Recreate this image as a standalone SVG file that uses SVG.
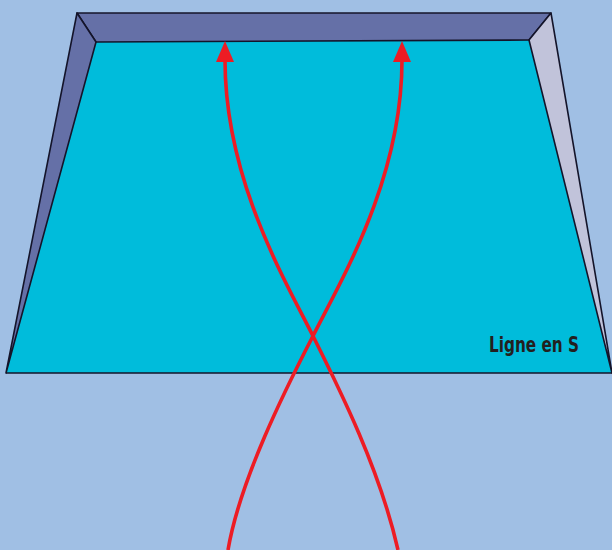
<svg xmlns="http://www.w3.org/2000/svg" width="612" height="550" viewBox="0 0 612 550">
<style>
.wall{stroke:#14142a;stroke-width:1.6;stroke-linejoin:round}
.path{fill:none;stroke:#ED1C24;stroke-width:3.6}
.lbl{font-family:"DejaVu Sans Condensed","DejaVu Sans",sans-serif;font-weight:bold;font-size:21px;fill:#231F20}
</style>
<defs>
<marker id="ah" viewBox="0 0 20 20" refX="10" refY="0" markerWidth="20" markerHeight="20" markerUnits="userSpaceOnUse" orient="auto-start-reverse">
<path d="M10,0 L19,20 L1,20 Z" fill="#ED1C24"/>
</marker>
</defs>
<rect width="612" height="550" fill="#A0BFE4"/>
<g id="pool">
<polygon points="6,373 96,42 529,40 612,373" fill="#00BCDB" stroke="none"/>
<polygon class="wall" points="77,13 551,13 529,40 96,42" fill="#6570A7"/>
<polygon class="wall" points="77,13 96,42 6,373" fill="#6570A7"/>
<polygon class="wall" points="551,13 612,373 529,40" fill="#C1C3DA"/>
<line class="wall" x1="6" y1="373" x2="612" y2="373"/>
</g>
<g id="label">
<text class="lbl" x="489" y="352" textLength="90" lengthAdjust="spacingAndGlyphs">Ligne en S</text>
</g>
<g id="connectors">
<path class="path" d="M398,550 C380,470 340,390 313,336 C286,282 225,180 225,60"/>
<path class="path" d="M228,550 C240,480 285,390 313,336 C340,282 402,180 402,60"/>
<path d="M225,41 L234,62 L216,62 Z" fill="#ED1C24"/>
<path d="M402,41 L411,62 L393,62 Z" fill="#ED1C24"/>
</g>
</svg>
